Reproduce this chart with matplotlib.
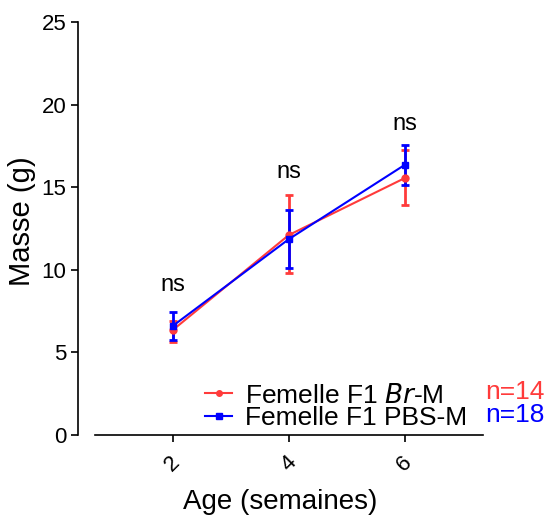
import matplotlib
matplotlib.use("Agg")
import matplotlib.pyplot as plt
from matplotlib.lines import Line2D

plt.rcParams['font.family'] = ['Liberation Sans', 'DejaVu Sans']

ages = [2, 4, 6]
br_mean = [6.35, 12.1, 15.55]
br_low = [5.65, 9.8, 13.9]
br_high = [6.9, 14.5, 17.25]
pbs_mean = [6.6, 11.85, 16.35]
pbs_low = [5.75, 10.1, 15.15]
pbs_high = [7.45, 13.6, 17.55]
ns_y = [9.1, 15.9, 18.8]
ytick_vals = [0, 5, 10, 15, 20, 25]
labels = ["Femelle F1 $\\it{Br}$-M", "Femelle F1 PBS-M"]
n_labels = ["n=14", "n=18"]

red = '#ff3b3b'
blue = '#0000ff'

fig = plt.figure(figsize=(5.45, 5.19), dpi=100)
ax = fig.add_axes([78/545, 1-435/519, 405/545, 413/519])

def err(mean, lo, hi):
    return [[m - l for m, l in zip(mean, lo)], [h - m for m, h in zip(mean, hi)]]

ax.errorbar(ages, br_mean, yerr=err(br_mean, br_low, br_high), color=red, marker='o',
            markersize=5, lw=1.5, elinewidth=2, capsize=3, capthick=2)
ax.errorbar(ages, pbs_mean, yerr=err(pbs_mean, pbs_low, pbs_high), color=blue, marker='s',
            markersize=5, lw=1.5, elinewidth=2, capsize=3, capthick=2)

for x, y in zip(ages, ns_y):
    ax.text(x, y, "ns", ha='center', va='center', fontsize=17)

ax.set_ylim(0, 25)
ax.set_xlim(0.367, 7.35)
ax.set_yticks(ytick_vals)
ax.set_xticks(ages)
ax.tick_params(labelsize=16, width=1.2, length=5, pad=3.5)
ax.tick_params(axis='x', labelsize=16, pad=7)
for lab in ax.get_xticklabels():
    lab.set_rotation(45)
ax.spines['top'].set_visible(False)
ax.spines['right'].set_visible(False)
ax.spines['bottom'].set_bounds(0.66, 7.35)
ax.spines['left'].set_linewidth(1.2)
ax.spines['bottom'].set_linewidth(1.2)
ax.set_ylabel("Masse (g)", fontsize=21)
ax.yaxis.set_label_coords(-0.104, 0.518)
ax.set_xlabel("Age (semaines)", fontsize=20, labelpad=10)

handles = [Line2D([], [], color=red, marker='o', markersize=4, lw=1.5),
           Line2D([], [], color=blue, marker='s', markersize=4, lw=1.5)]
leg = ax.legend(handles, labels, loc='lower right', bbox_to_anchor=(1.0, -0.027), frameon=False,
                fontsize=19, handlelength=1.0, handletextpad=0.5, labelspacing=-0.05,
                borderaxespad=0.2)

fig.text(485/545, 1-392/519, n_labels[0], color=red, fontsize=19, va='center', ha='left')
fig.text(485/545, 1-415/519, n_labels[1], color=blue, fontsize=19, va='center', ha='left')

fig.savefig("out.png", dpi=100)
